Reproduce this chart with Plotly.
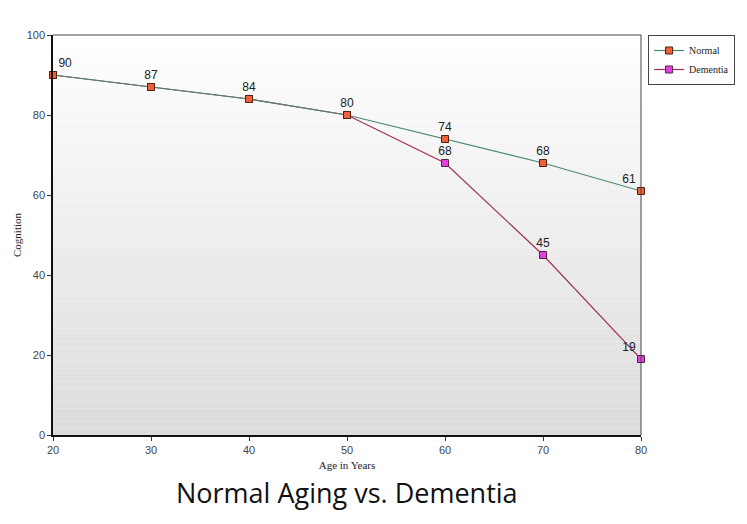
import plotly.graph_objects as go

ages = [20, 30, 40, 50, 60, 70, 80]
normal = [90, 87, 84, 80, 74, 68, 61]
dementia = [90, 87, 84, 80, 68, 45, 19]
dementia_labelled = [False, False, False, False, True, True, True]

def positions(n):
    pos = ["top center"] * n
    pos[0] = "top right"
    pos[-1] = "top left"
    return pos

fig = go.Figure()

fig.add_trace(go.Scatter(
    x=ages, y=dementia, name="Dementia", mode="lines+markers+text",
    text=[str(v) if s else "" for v, s in zip(dementia, dementia_labelled)],
    textposition=positions(len(ages)),
    textfont=dict(family="Liberation Sans, Arial", size=12, color="#222"),
    line=dict(color="#a0305a", width=1.2),
    marker=dict(symbol="square", size=7, color="#e040e0", line=dict(color="#5a2040", width=1)),
    cliponaxis=False,
))
fig.add_trace(go.Scatter(
    x=ages, y=normal, name="Normal", mode="lines+markers+text",
    text=[str(v) for v in normal],
    textposition=positions(len(ages)),
    textfont=dict(family="Liberation Sans, Arial", size=12, color="#222"),
    line=dict(color="#4a8a6a", width=1.2),
    marker=dict(symbol="square", size=7, color="#f0603a", line=dict(color="#502010", width=1)),
    cliponaxis=False,
))

# gradient background
shapes = []
n = 60
for i in range(n):
    g = int(round(255 - (255 - 220) * (1 - (i + 0.5) / n)))
    shapes.append(dict(type="rect", xref="x domain", yref="y domain",
                       x0=0, x1=1, y0=i / n, y1=(i + 1) / n,
                       fillcolor=f"rgb({g},{g},{g})", line=dict(width=0),
                       layer="below"))
# thinner top and right frame lines
shapes.append(dict(type="line", xref="x domain", yref="y domain", x0=0, x1=1, y0=1, y1=1,
                   line=dict(color="#444", width=1)))
shapes.append(dict(type="line", xref="x domain", yref="y domain", x0=1, x1=1, y0=0, y1=1,
                   line=dict(color="#444", width=1)))

fig.update_layout(
    width=739, height=516,
    margin=dict(l=45, r=106, t=27, b=89, autoexpand=False),
    paper_bgcolor="white", plot_bgcolor="white",
    shapes=shapes,
    showlegend=True,
    legend=dict(x=1.012, y=1.0, xanchor="left", yanchor="top",
                bordercolor="#444", borderwidth=1, bgcolor="white",
                traceorder="reversed",
                font=dict(family="Liberation Serif, Times New Roman", size=10, color="#222"),
                itemwidth=30, tracegroupgap=0),
    annotations=[dict(text="Normal Aging vs. Dementia", xref="paper", yref="paper",
                      x=0.5, y=-0.1425, xanchor="center", yanchor="middle", showarrow=False,
                      font=dict(family="Open Sans", size=27, color="#111"))],
)

fig.update_xaxes(range=[20, 80], tickvals=ages, ticks="outside", ticklen=4,
                 tickcolor="#333", showline=True, linecolor="#111", linewidth=1.5,
                 showgrid=False, zeroline=False,
                 tickfont=dict(family="Liberation Sans, Arial", size=11, color="#444"),
                 title=dict(text="Age in Years", standoff=6,
                            font=dict(family="Liberation Serif, Times New Roman", size=11, color="#222")))
fig.update_yaxes(range=[0, 100], dtick=20, ticks="outside", ticklen=4,
                 tickcolor="#333", showline=True, linecolor="#111", linewidth=1.5,
                 showgrid=False, zeroline=False,
                 tickfont=dict(family="Liberation Sans, Arial", size=11, color="#444"),
                 title=dict(text="Cognition", standoff=3,
                            font=dict(family="Liberation Serif, Times New Roman", size=11, color="#222")))

fig.write_html("out.html")
